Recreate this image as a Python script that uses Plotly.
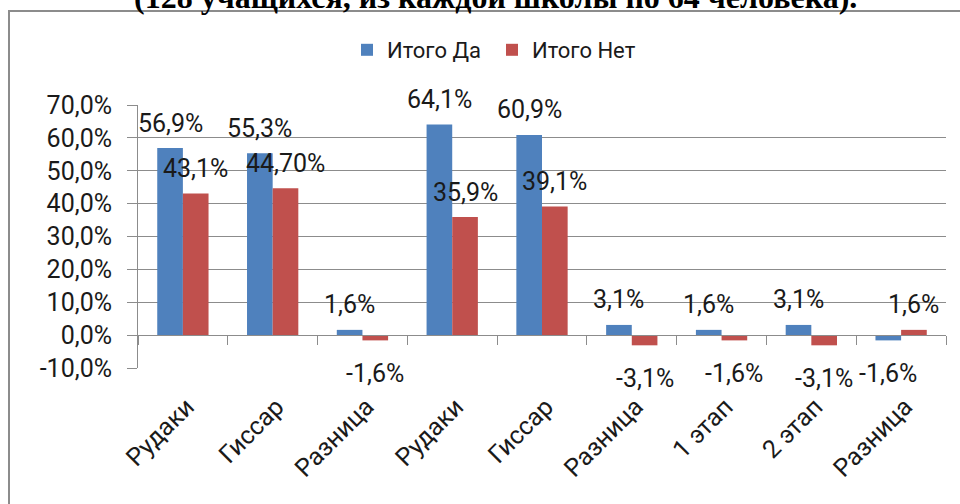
import plotly.graph_objects as go

categories = ["Рудаки", "Гиссар", "Разница", "Рудаки", "Гиссар", "Разница", "1 этап", "2 этап", "Разница"]
itogo_da = [56.9, 55.3, 1.6, 64.1, 60.9, 3.1, 1.6, 3.1, -1.6]
itogo_net = [43.1, 44.7, -1.6, 35.9, 39.1, -3.1, -1.6, -3.1, 1.6]
labels_da = ["56,9%", "55,3%", "1,6%", "64,1%", "60,9%", "3,1%", "1,6%", "3,1%", "-1,6%"]
labels_net = ["43,1%", "44,70%", "-1,6%", "35,9%", "39,1%", "-3,1%", "-1,6%", "-3,1%", "1,6%"]
y_ticks = [-10, 0, 10, 20, 30, 40, 50, 60, 70]
y_tick_text = ["-10,0%", "0,0%", "10,0%", "20,0%", "30,0%", "40,0%", "50,0%", "60,0%", "70,0%"]
title_text = "(128 учащихся, из каждой школы по 64 человека)."

BLUE = "#4F81BD"
RED = "#C0504D"
GRID = "#8C8C8C"
TXT = "#1a1a1a"
FONT = "Roboto, 'Liberation Sans', sans-serif"

n = len(categories)
x = list(range(n))
y_min, y_max = y_ticks[0], y_ticks[-1]
bargap = 1.5 / 3.5
half = (1 - bargap) / 4  # centre offset of each bar in a group

fig = go.Figure()
fig.add_bar(x=x, y=itogo_da, name="Итого Да", marker=dict(color=BLUE, line=dict(width=0)))
fig.add_bar(x=x, y=itogo_net, name="Итого Нет", marker=dict(color=RED, line=dict(width=0)))

annotations = []
for xs, vals, labs, off in ((x, itogo_da, labels_da, -half), (x, itogo_net, labels_net, half)):
    for xi, v, t in zip(xs, vals, labs):
        annotations.append(dict(
            x=xi + off, y=v, xref="x", yref="y", text=t, showarrow=False,
            yanchor="middle", xanchor="center", yshift=25 if v >= 0 else -33,
            font=dict(family=FONT, size=25, color=TXT)))

# chart title (partially cut by the top of the page)
annotations.append(dict(
    x=0.442, y=1.3346, xref="paper", yref="paper", text="<b>" + title_text + "</b>",
    showarrow=False, xanchor="center", yanchor="bottom",
    font=dict(family="'Liberation Serif', 'Times New Roman', serif", size=32, color="#000")))

zero_pos = (0 - y_min) / (y_max - y_min)

fig.update_layout(
    width=960, height=504,
    margin=dict(l=138, r=14, t=105, b=136, autoexpand=False),
    paper_bgcolor="white", plot_bgcolor="white",
    barmode="group", bargap=bargap, bargroupgap=0,
    font=dict(family=FONT, color=TXT),
    showlegend=True,
    legend=dict(orientation="h", xref="container", yref="container",
                x=0.5125, y=1 - 50 / 504, xanchor="center", yanchor="middle",
                font=dict(family=FONT, size=22, color=TXT), itemwidth=30,
                entrywidth=100, bgcolor="rgba(0,0,0,0)"),
    annotations=annotations,
    xaxis=dict(
        type="linear", range=[-0.5, n - 0.5], anchor="free", position=zero_pos,
        automargin=False,
        tickmode="array", tickvals=x, ticktext=categories, tickangle=-45,
        ticks="outside", ticklen=0, ticklabelstandoff=46, ticklabelshift=4,
        tickfont=dict(family=FONT, size=25, color=TXT),
        showline=True, linecolor=GRID, linewidth=1, showgrid=False, zeroline=False,
        minor=dict(ticks="outside", tick0=0.5, dtick=1, ticklen=9, tickcolor=GRID, showgrid=False),
    ),
    yaxis=dict(
        range=[y_min, y_max], tickmode="array", tickvals=y_ticks, ticktext=y_tick_text,
        automargin=False,
        ticks="outside", ticklen=10, tickcolor=GRID, ticklabelstandoff=10,
        tickfont=dict(family=FONT, size=25, color=TXT),
        showline=True, linecolor=GRID, linewidth=1,
        showgrid=True, gridcolor=GRID, gridwidth=1, zeroline=False,
    ),
    shapes=[dict(type="rect", xref="paper", yref="paper",
                 x0=(9 - 138) / 808, x1=1.2, y0=-0.6, y1=1 + (105 - 11) / 263,
                 line=dict(color="#8C8C8C", width=2), fillcolor="rgba(0,0,0,0)", layer="below")],
)

fig.write_html("out.html", config={"displayModeBar": False},
               post_script="document.body.style.margin='0';")
